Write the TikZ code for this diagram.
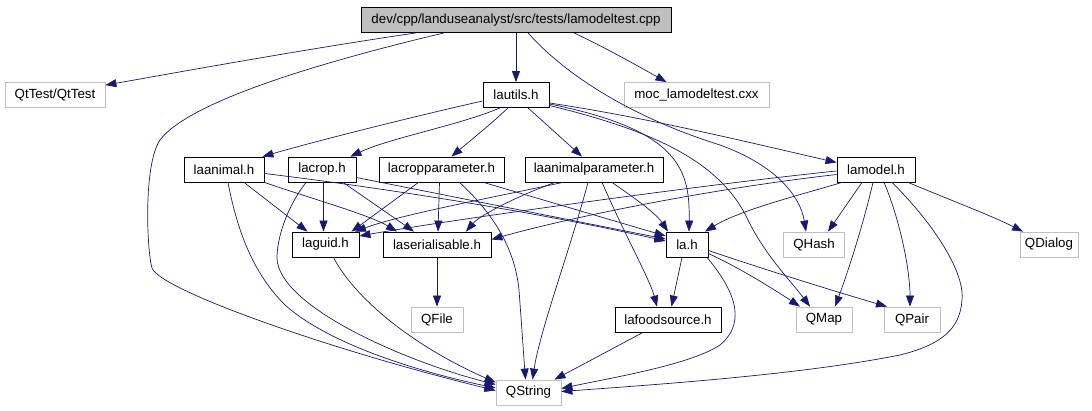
\documentclass[tikz,border=0pt]{standalone}
\usepackage{fontspec}
\setmainfont{Liberation Sans}
\usetikzlibrary{arrows.meta}
\definecolor{edgeblue}{RGB}{25,25,112}
\definecolor{extgray}{RGB}{191,191,191}
\begin{document}
\begin{tikzpicture}[x=1pt,y=-1pt,
  box/.style={draw=black, fill=white, line width=0.8pt, minimum height=25pt, inner sep=0pt, font=\fontsize{13.3}{16}\selectfont},
  extbox/.style={box, draw=extgray},
  rootbox/.style={box, fill=extgray},
  dep/.style={draw=edgeblue, line width=0.7pt, -{Triangle[length=11pt,width=8pt]}}
]
\useasboundingbox (0,0) rectangle (1092,411);
% nodes
\node[rootbox, minimum width=310pt] (root) at (516,20) {dev/cpp/landuseanalyst/src/tests/lamodeltest.cpp};
\node[extbox, minimum width=100pt] (qttest) at (55,95) {QtTest/QtTest};
\node[box, minimum width=66pt] (lautils) at (516,95) {lautils.h};
\node[extbox, minimum width=145pt] (moc) at (696.5,95) {moc\_lamodeltest.cxx};
\node[box, minimum width=80pt] (laanimal) at (224,169.5) {laanimal.h};
\node[box, minimum width=68pt] (lacrop) at (322,169.5) {lacrop.h};
\node[box, minimum width=125pt] (lacroppar) at (441.5,169.5) {lacropparameter.h};
\node[box, minimum width=138pt] (laanimalpar) at (594,169.5) {laanimalparameter.h};
\node[box, minimum width=78pt] (lamodel) at (876,169.5) {lamodel.h};
\node[box, minimum width=67pt] (laguid) at (325.5,244.5) {laguid.h};
\node[box, minimum width=108pt] (laser) at (437,244.5) {laserialisable.h};
\node[box, minimum width=42pt] (lah) at (687,244.5) {la.h};
\node[extbox, minimum width=61pt] (qhash) at (814,244.5) {QHash};
\node[extbox, minimum width=58pt] (qdialog) at (1049,244.5) {QDialog};
\node[extbox, minimum width=52pt] (qfile) at (437,319.5) {QFile};
\node[box, minimum width=106pt] (lafood) at (668,319.5) {lafoodsource.h};
\node[extbox, minimum width=56pt] (qmap) at (824,319.5) {QMap};
\node[extbox, minimum width=56pt] (qpair) at (912,319.5) {QPair};
\node[extbox, minimum width=65pt] (qstring) at (528.5,392.5) {QString};
% root edges
\draw[dep] ([xshift=-100pt]root.south) .. controls (300,50) and (180,72) .. ([yshift=-3pt]qttest.north east);
\draw[dep] ([xshift=-72pt]root.south) .. controls (330,60) and (190,100) .. (160,140) .. controls (143,165) and (147,252) .. (152,268) .. controls (160,290) and (330,350) .. ([yshift=2pt]qstring.west);
\draw[dep] (root.south) -- (lautils.north);
\draw[dep] ([xshift=58pt]root.south) .. controls (610,50) and (645,70) .. ([xshift=-30pt]moc.north);
\draw[dep] ([xshift=12pt]root.south) .. controls (570,80) and (640,120) .. (720,145) .. controls (775,165) and (800,195) .. ([xshift=-8pt]qhash.north);
% lautils edges
\draw[dep] ([yshift=-6pt]lautils.west) .. controls (420,115) and (320,140) .. ([xshift=-2pt]laanimal.north east);
\draw[dep] ([xshift=-16pt]lautils.south) .. controls (460,125) and (390,138) .. ([xshift=-6pt]lacrop.north east);
\draw[dep] ([xshift=-8pt]lautils.south) .. controls (490,125) and (465,145) .. ([xshift=10pt]lacroppar.north);
\draw[dep] ([xshift=12pt]lautils.south) -- ([xshift=-12pt]laanimalpar.north);
\draw[dep] ([yshift=-9pt]lautils.east) .. controls (680,130) and (690,170) .. ([xshift=2pt]lah.north);
\draw[dep] ([yshift=-10.5pt]lautils.east) .. controls (650,130) and (720,160) .. (748,220) .. controls (765,255) and (790,280) .. ([xshift=-14pt]qmap.north);
\draw[dep] ([yshift=-8pt]lautils.east) .. controls (650,118) and (760,145) .. ([yshift=7pt]lamodel.west);
% laanimal edges
\draw[dep] ([xshift=20pt]laanimal.south) -- ([xshift=-18pt]laguid.north);
\draw[dep] (laanimal.south east) .. controls (300,195) and (370,215) .. ([xshift=-40pt]laser.north);
\draw[dep] ([yshift=-4pt]laanimal.east) .. controls (400,190) and (550,215) .. ([yshift=3.5pt]lah.west);
\draw[dep] ([xshift=4pt]laanimal.south) .. controls (238,235) and (255,275) .. (285,305) .. controls (330,345) and (420,372) .. ([yshift=4.5pt]qstring.west);
% lacrop edges
\draw[dep] ([xshift=1.5pt]lacrop.south) -- ([xshift=-2pt]laguid.north);
\draw[dep] ([xshift=21pt]lacrop.south) -- ([xshift=-23pt]laser.north);
\draw[dep] ([yshift=-8pt]lacrop.east) -- ([yshift=5.5pt]lah.west);
\draw[dep] ([xshift=-16pt]lacrop.south) .. controls (285,210) and (277,240) .. (277,258) .. controls (278,305) and (400,360) .. ([yshift=8pt]qstring.west);
% lacropparameter edges
\draw[dep] ([xshift=-23pt]lacroppar.south) -- ([xshift=26pt]laguid.north);
\draw[dep] ([xshift=-2pt]lacroppar.south) -- ([xshift=1pt]laser.north);
\draw[dep] ([xshift=18pt]lacroppar.south) .. controls (495,215) and (515,250) .. (519,290) .. controls (522,330) and (524,360) .. ([xshift=-3pt]qstring.north);
\draw[dep] ([xshift=42pt]lacroppar.south) -- ([yshift=8.5pt]lah.west);
% laanimalparameter edges
\draw[dep] ([xshift=-31pt]laanimalpar.south) .. controls (480,200) and (400,215) .. ([xshift=29.5pt]laguid.north);
\draw[dep] ([xshift=-39pt]laanimalpar.south) .. controls (520,195) and (480,215) .. ([xshift=29pt]laser.north);
\draw[dep] ([xshift=18pt]laanimalpar.south) .. controls (630,195) and (655,212) .. ([xshift=-19pt]lah.north);
\draw[dep] ([xshift=8pt]laanimalpar.south) .. controls (625,235) and (650,280) .. ([xshift=-11pt]lafood.north);
\draw[dep] ([xshift=-6pt]laanimalpar.south) .. controls (570,250) and (540,330) .. ([xshift=4pt]qstring.north);
% lamodel edges
\draw[dep] ([yshift=-1.5pt]lamodel.west) .. controls (700,185) and (450,220) .. ([yshift=8.5pt]laguid.east);
\draw[dep] ([yshift=-5pt]lamodel.west) .. controls (700,190) and (560,220) .. ([yshift=5pt]laser.east);
\draw[dep] ([xshift=-34pt]lamodel.south) .. controls (800,195) and (740,210) .. ([xshift=18pt]lah.north);
\draw[dep] ([xshift=-14pt]lamodel.south) -- ([xshift=14pt]qhash.north);
\draw[dep] ([xshift=32pt]lamodel.south) .. controls (950,200) and (990,215) .. ([xshift=-26pt]qdialog.north);
\draw[dep] ([xshift=-3pt]lamodel.south) .. controls (862,230) and (845,280) .. ([xshift=11pt]qmap.north);
\draw[dep] ([xshift=8pt]lamodel.south) .. controls (900,220) and (910,270) .. ([xshift=-2pt]qpair.north);
\draw[dep] ([xshift=16pt]lamodel.south) .. controls (930,220) and (965,270) .. (962,300) .. controls (960,330) and (940,345) .. (900,355) .. controls (800,375) and (650,385) .. ([yshift=1pt]qstring.east);
% la.h edges
\draw[dep] ([xshift=-5pt]lah.south) -- ([xshift=3.5pt]lafood.north);
\draw[dep] ([xshift=20pt]lah.south) .. controls (730,285) and (750,320) .. (720,345) .. controls (690,365) and (610,378) .. ([yshift=4pt]qstring.east);
\draw[dep] ([yshift=-9pt]lah.east) .. controls (740,268) and (775,290) .. ([xshift=-24pt]qmap.north);
\draw[dep] ([yshift=-6pt]lah.east) .. controls (760,268) and (830,290) .. ([xshift=-25pt]qpair.north);
% others
\draw[dep] ([xshift=8pt]laguid.south) .. controls (350,290) and (400,340) .. ([yshift=10pt]qstring.west);
\draw[dep] (laser.south) -- (qfile.north);
\draw[dep] ([xshift=-25pt]lafood.south) -- ([xshift=26pt]qstring.north);
\end{tikzpicture}
\end{document}
